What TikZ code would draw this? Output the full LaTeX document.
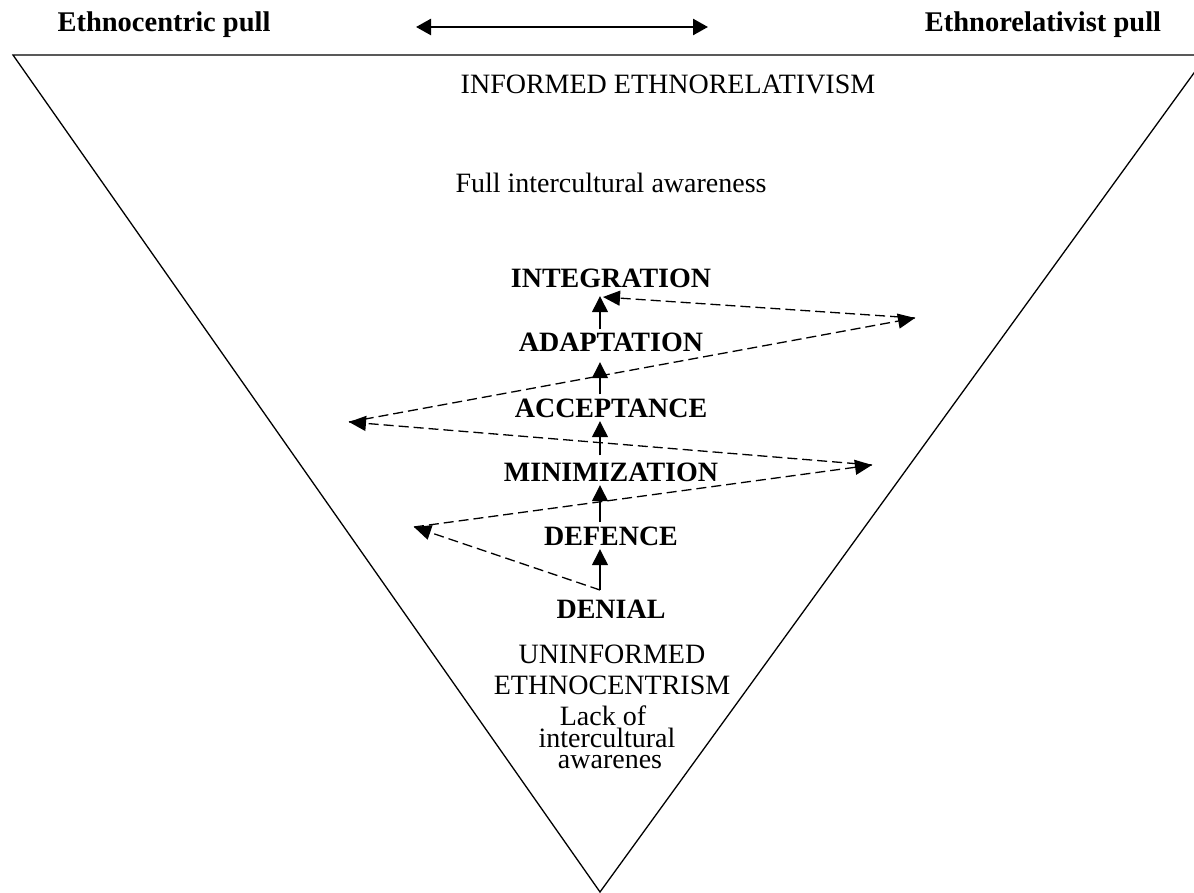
\documentclass[tikz,border=0pt]{standalone}
\usepackage{fontspec}
\setmainfont{Liberation Serif}
\usetikzlibrary{arrows.meta}
\begin{document}
\begin{tikzpicture}[x=1pt,y=-1pt,
  stage/.style={font=\fontsize{28}{30}\selectfont\bfseries, inner xsep=0pt, inner ysep=4pt, text height=18.5pt, text depth=0pt, anchor=base},
  plain/.style={font=\fontsize{28}{30}\selectfont, inner sep=0pt, anchor=base},
  pull/.style={font=\fontsize{28.5}{30}\selectfont\bfseries, inner sep=0pt, anchor=base},
  uparrow/.style={line width=1.3pt, -{Triangle[length=16pt,width=16pt]}},
  zig/.style={line width=1.3pt, dash pattern=on 10pt off 5pt, -{Triangle[length=17pt,width=15pt]}},
  pullarrow/.style={line width=2.5pt, {Triangle[length=15pt,width=16pt]}-{Triangle[length=15pt,width=16pt]}},
  edge/.style={line width=1.3pt, line join=miter}]
\useasboundingbox (0,0) rectangle (1194,893);
\begin{scope}
  \clip (0,0) rectangle (1194,893);
  \draw[edge] (13,55) -- (1207,55) -- (600,892) -- cycle;
\end{scope}

% top labels
\node[pull] (ecp) at (164,32) {Ethnocentric pull};
\node[pull] (erp) at (1043,32) {Ethnorelativist pull};
\coordinate (pl) at (416,27);
\coordinate (pr) at (708,27);
\draw[pullarrow] (pl) -- (pr);

\node[plain] (ier) at (668,94) {INFORMED ETHNORELATIVISM};
\node[plain] (fia) at (611,193) {Full intercultural awareness};

% stages
\node[stage] (integ) at (611,288) {INTEGRATION};
\node[stage] (adapt) at (611,352) {ADAPTATION};
\node[stage] (accept) at (611,417) {ACCEPTANCE};
\node[stage] (minim) at (611,481) {MINIMIZATION};
\node[stage] (defence) at (611,545) {DEFENCE};
\node[stage] (denial) at (611,618) {DENIAL};

\node[plain] (unf) at (612,663) {UNINFORMED};
\node[plain] (etc) at (612,694) {ETHNOCENTRISM};
\node[plain] (lack) at (603,725) {Lack of};
\node[plain] (inter) at (607,747) {intercultural};
\node[plain] (aw) at (610,768) {awarenes};

% vertical arrows
\coordinate (ax) at (600,0);
\coordinate (p0) at (600,590);
\draw[uparrow] (p0) -- (defence.south -| ax);
\draw[uparrow] (defence.north -| ax) -- (minim.south -| ax);
\draw[uparrow, shorten <=3pt] (minim.north -| ax) -- (accept.south -| ax);
\draw[uparrow, shorten >=6pt] (accept.north -| ax) -- (adapt.south -| ax);
\draw[uparrow, shorten >=4pt] (adapt.north -| ax) -- (integ.south -| ax);

% zigzag
\coordinate (l1) at (414,527);
\coordinate (r1) at (872,465);
\coordinate (l2) at (349,422);
\coordinate (r2) at (915,318);
\coordinate (tt) at (603,297);
\draw[zig] (p0) -- (l1);
\draw[zig] (l1) -- (r1);
\draw[zig] (r1) -- (l2);
\draw[zig] (l2) -- (r2);
\draw[zig] (r2) -- (tt);
\end{tikzpicture}
\end{document}
